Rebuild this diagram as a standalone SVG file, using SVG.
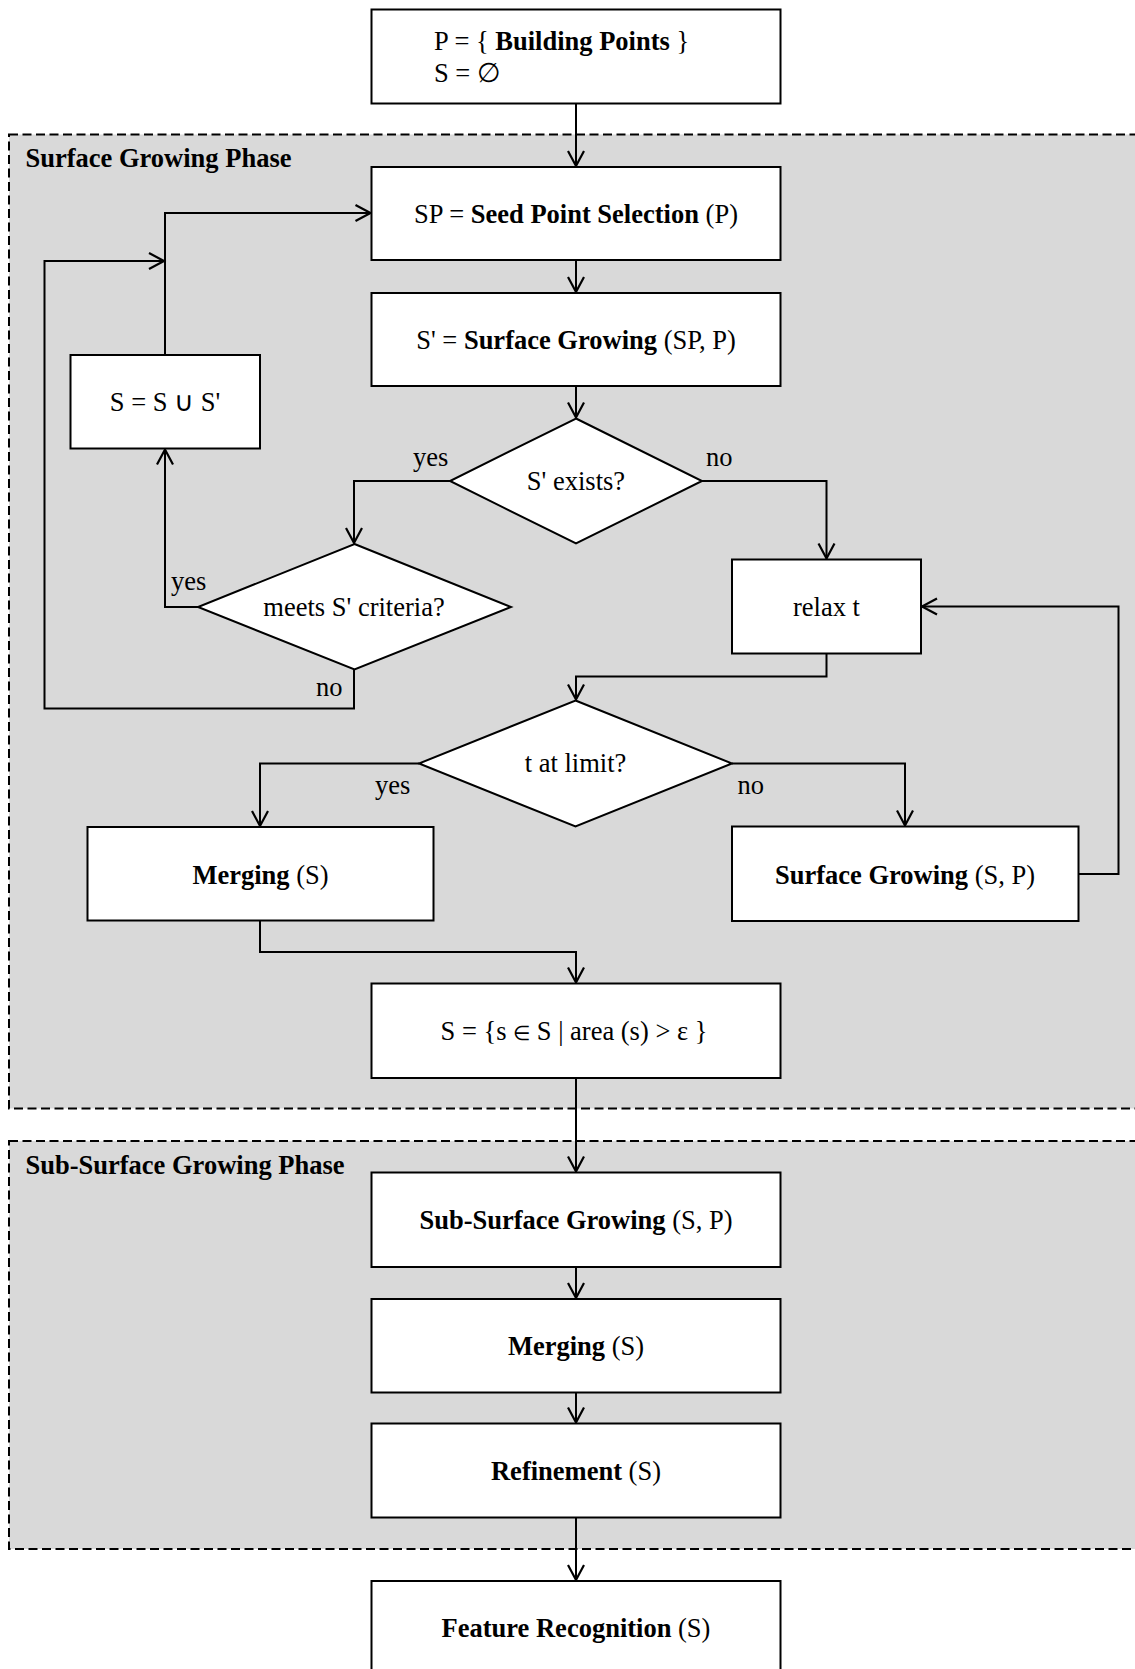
<svg xmlns="http://www.w3.org/2000/svg" width="1135" height="1669" viewBox="0 0 1135 1669">
<style>
.t{font-family:"Liberation Serif","Times New Roman",serif;font-size:26.5px;fill:#000}
.c{text-anchor:middle}
.b{font-weight:bold}
.box{fill:#fff;stroke:#000;stroke-width:2}
.phase{fill:#d9d9d9;stroke:#000;stroke-width:2;stroke-dasharray:9 4.5}
.ln{fill:none;stroke:#000;stroke-width:2}
</style>
<defs>
<marker id="ar" markerUnits="userSpaceOnUse" markerWidth="20" markerHeight="20" refX="16" refY="9" orient="auto" viewBox="0 0 20 20" overflow="visible">
<path d="M1,1 L16,9 L1,17" fill="none" stroke="#000" stroke-width="2.2"/>
</marker>
</defs>
<rect width="1135" height="1669" fill="#fff"/>
<g id="phase1">
<rect class="phase" x="9" y="134.5" width="1140" height="974"/>
<text class="t b" x="25.5" y="167">Surface Growing Phase</text>
</g>
<g id="phase2">
<rect class="phase" x="9" y="1141" width="1140" height="408"/>
<text class="t b" x="25.5" y="1173.5">Sub-Surface Growing Phase</text>
</g>
<g id="connectors">
<path class="ln" d="M576,103.5 V166" marker-end="url(#ar)"/>
<path class="ln" d="M576,260 V292" marker-end="url(#ar)"/>
<path class="ln" d="M576,386 V417.5" marker-end="url(#ar)"/>
<path class="ln" d="M450,481 H354 V543" marker-end="url(#ar)"/>
<path class="ln" d="M702,481 H826.5 V558.5" marker-end="url(#ar)"/>
<path class="ln" d="M198,607 H165 V449.5" marker-end="url(#ar)"/>
<path class="ln" d="M165,355 V213 H370.5" marker-end="url(#ar)"/>
<path class="ln" d="M354,669.5 V708.5 H44.5 V261 H164" marker-end="url(#ar)"/>
<path class="ln" d="M826.5,653.5 V676.5 H576 V699.5" marker-end="url(#ar)"/>
<path class="ln" d="M419,763.5 H260 V826" marker-end="url(#ar)"/>
<path class="ln" d="M732,763.5 H905 V825.5" marker-end="url(#ar)"/>
<path class="ln" d="M1078.5,874 H1118.5 V606.5 H922" marker-end="url(#ar)"/>
<path class="ln" d="M260,920.5 V952 H576 V982.5" marker-end="url(#ar)"/>
<path class="ln" d="M576,1078 V1171.5" marker-end="url(#ar)"/>
<path class="ln" d="M576,1267 V1298" marker-end="url(#ar)"/>
<path class="ln" d="M576,1392.5 V1422.5" marker-end="url(#ar)"/>
<path class="ln" d="M576,1517.5 V1580" marker-end="url(#ar)"/>
</g>
<g id="labels">
<text class="t" x="413" y="466">yes</text>
<text class="t" x="706" y="466">no</text>
<text class="t" x="171" y="590">yes</text>
<text class="t" x="316" y="696">no</text>
<text class="t" x="375" y="794">yes</text>
<text class="t" x="737.5" y="794">no</text>
</g>
<g id="start">
<rect class="box" x="371.5" y="9.5" width="409" height="94"/>
<text class="t" x="434" y="49.5">P = { <tspan class="b">Building Points</tspan> }</text>
<text class="t" x="434" y="81.5">S = ∅</text>
</g>
<g id="seed">
<rect class="box" x="371.5" y="167" width="409" height="93"/>
<text class="t c" x="576" y="222.5">SP = <tspan class="b">Seed Point Selection</tspan> (P)</text>
</g>
<g id="grow">
<rect class="box" x="371.5" y="293" width="409" height="93"/>
<text class="t c" x="576" y="349">S' = <tspan class="b">Surface Growing</tspan> (SP, P)</text>
</g>
<g id="exists">
<polygon class="box" points="576,418.5 702,481 576,543.5 450,481"/>
<text class="t c" x="576" y="490">S' exists?</text>
</g>
<g id="criteria">
<polygon class="box" points="354.5,544 511,607 354.5,669.5 198,607"/>
<text class="t c" x="354" y="616">meets S' criteria?</text>
</g>
<g id="union">
<rect class="box" x="70.5" y="355" width="189.5" height="93.5"/>
<text class="t c" x="165" y="411">S = S ∪ S'</text>
</g>
<g id="relax">
<rect class="box" x="732" y="559.5" width="189" height="94"/>
<text class="t c" x="826.5" y="616">relax t</text>
</g>
<g id="limit">
<polygon class="box" points="575.5,700.5 732,763.5 575.5,826.5 419,763.5"/>
<text class="t c" x="575.5" y="772">t at limit?</text>
</g>
<g id="merge1">
<rect class="box" x="87.5" y="827" width="346" height="93.5"/>
<text class="t c" x="260.5" y="883.5"><tspan class="b">Merging</tspan> (S)</text>
</g>
<g id="grow2">
<rect class="box" x="732" y="826.5" width="346.5" height="94.5"/>
<text class="t c" x="905" y="883.5"><tspan class="b">Surface Growing</tspan> (S, P)</text>
</g>
<g id="filter">
<rect class="box" x="371.5" y="983.5" width="409" height="94.5"/>
<text class="t c" x="574" y="1040">S = {s <tspan font-size="20">∈</tspan> S | area (s) &gt; ε }</text>
</g>
<g id="subgrow">
<rect class="box" x="371.5" y="1172.5" width="409" height="94.5"/>
<text class="t c" x="576" y="1228.5"><tspan class="b">Sub-Surface Growing</tspan> (S, P)</text>
</g>
<g id="merge2">
<rect class="box" x="371.5" y="1299" width="409" height="93.5"/>
<text class="t c" x="576" y="1354.5"><tspan class="b">Merging</tspan> (S)</text>
</g>
<g id="refine">
<rect class="box" x="371.5" y="1423.5" width="409" height="94"/>
<text class="t c" x="576" y="1479.5"><tspan class="b">Refinement</tspan> (S)</text>
</g>
<g id="feature">
<rect class="box" x="371.5" y="1581" width="409" height="95"/>
<text class="t c" x="576" y="1637"><tspan class="b">Feature Recognition</tspan> (S)</text>
</g>
</svg>
